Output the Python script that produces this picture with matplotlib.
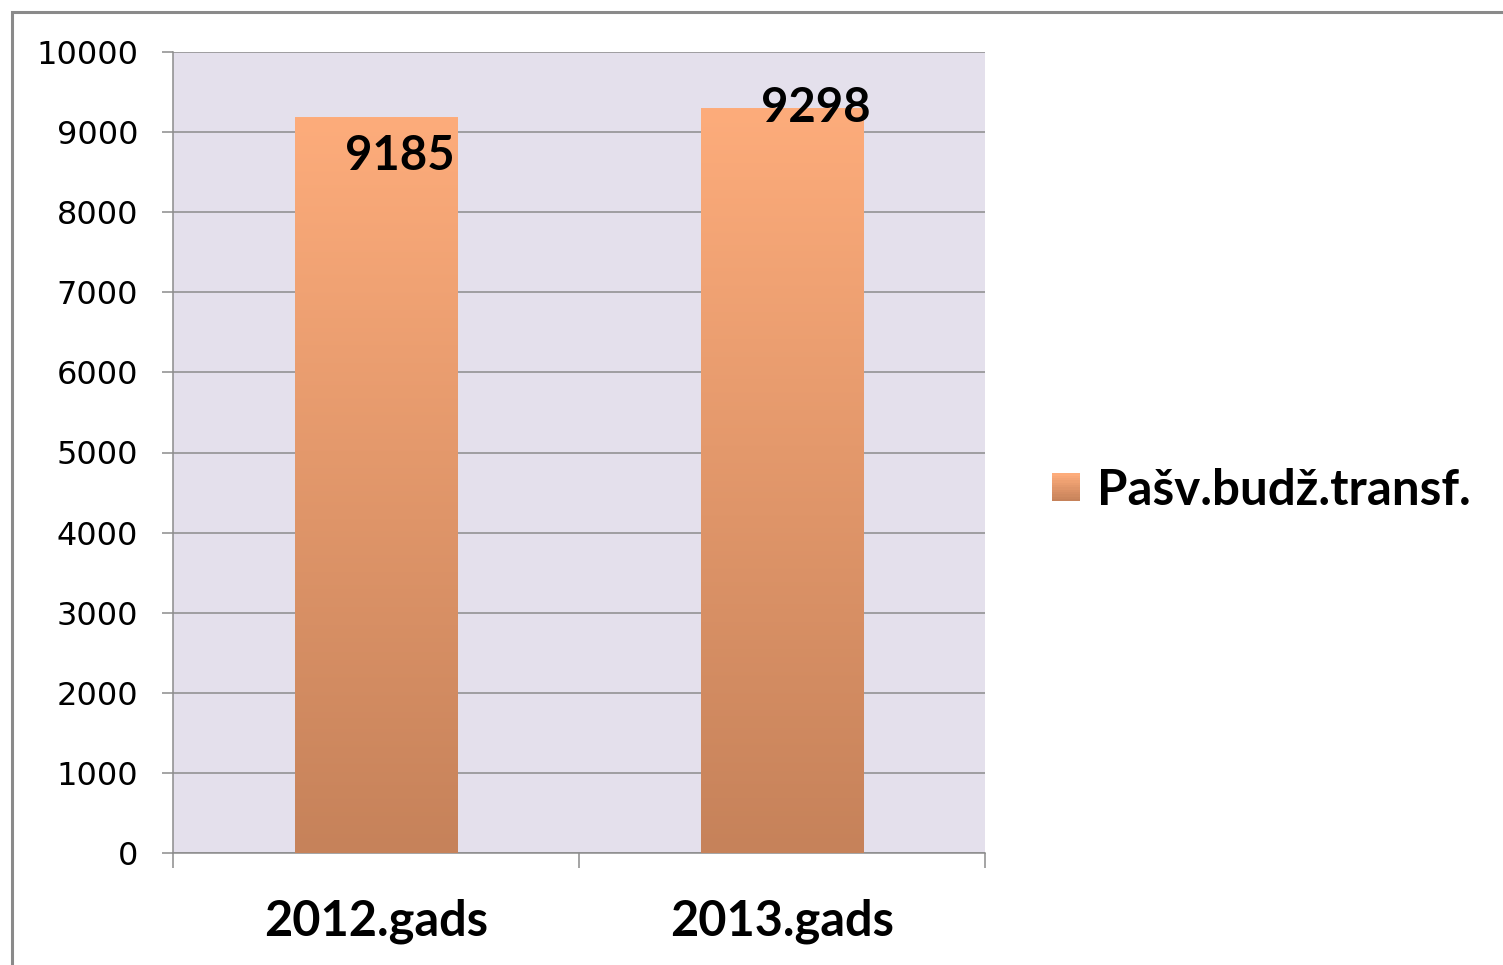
#bar chart: Pašv.budž.transf. 2012 vs 2013

import numpy as np
import matplotlib
matplotlib.use('Agg')
import matplotlib.pyplot as plt
from matplotlib.patches import Rectangle
from matplotlib.legend_handler import HandlerBase
from matplotlib.colors import to_rgb

years = ['2012.gads', '2013.gads']
values = [9185, 9298]
series_name = 'Pašv.budž.transf.'
yticks = [0, 1000, 2000, 3000, 4000, 5000, 6000, 7000, 8000, 9000, 10000]

top_col = '#FDAC7B'
bot_col = '#C6825A'
bg_col = '#E4E0EC'
grid_col = '#8C8C8C'


def gradient(n=256):
    a = np.array(to_rgb(bot_col))
    b = np.array(to_rgb(top_col))
    t = np.linspace(0, 1, n)[:, None]
    return (a + (b - a) * t)[:, None, :]


class GradientHandler(HandlerBase):
    def create_artists(self, legend, orig_handle, xdescent, ydescent,
                       width, height, fontsize, trans):
        n = 12
        side = 20
        x0 = xdescent + width - side
        y0 = -ydescent + (height - side) / 2
        g = gradient(n)
        arts = []
        for i in range(n):
            r = Rectangle((x0, y0 + side * i / n), side, side / n + 0.3,
                          facecolor=g[i, 0], edgecolor='none', transform=trans)
            arts.append(r)
        return arts


def main():
    fig = plt.figure(figsize=(15.03, 9.65), dpi=100)
    fig.patch.set_facecolor('white')

    # outer frame (only left and top visible in the original)
    fig.add_artist(Rectangle((12 / 1503, -0.1), 1.2, 1 - 12 / 965 + 0.1,
                             transform=fig.transFigure, fill=False,
                             edgecolor='#8A8A8A', linewidth=2.2))

    ax = fig.add_axes([173 / 1503, 1 - 853 / 965, 812 / 1503, 801 / 965])
    ax.set_facecolor(bg_col)

    x = np.arange(len(years))
    bars = ax.bar(x, values, width=0.4, color=top_col, zorder=3,
                  label=series_name)

    g = gradient()
    for b in bars:
        bx, by = b.get_x(), b.get_y()
        w, h = b.get_width(), b.get_height()
        im = ax.imshow(g, extent=(bx, bx + w, by, by + h), origin='lower',
                       aspect='auto', zorder=4)
        im.set_clip_path(b)

    ax.set_xlim(-0.5, len(years) - 0.5)
    ax.set_ylim(0, 10000)
    ax.set_yticks(yticks)
    ax.set_yticklabels([str(t) for t in yticks], fontsize=23,
                       family='DejaVu Sans')
    ax.yaxis.grid(True, color=grid_col, linewidth=1.1, zorder=1)
    ax.set_axisbelow(True)

    ax.set_xticks(x)
    ax.set_xticklabels(years, fontsize=35, fontweight='bold', family='Lato')
    ax.set_xticks(np.arange(len(years) + 1) - 0.5, minor=True)
    ax.tick_params(axis='x', which='major', length=0, pad=33)
    ax.tick_params(axis='x', which='minor', length=11, width=1.1,
                   color=grid_col, direction='out')
    ax.tick_params(axis='y', length=8, width=1.1, color=grid_col, pad=17)

    for s in ['top', 'right']:
        ax.spines[s].set_visible(False)
    for s in ['left', 'bottom']:
        ax.spines[s].set_color(grid_col)
        ax.spines[s].set_linewidth(1.1)

    # value labels, placed like the excel "inside end" labels
    offsets = [(17, -28), (24, 0)]
    for i, v in enumerate(values):
        ax.annotate(str(v), xy=(x[i], v), xytext=offsets[i],
                    textcoords='offset points', ha='center', va='center',
                    fontsize=34, fontweight='bold', family='Lato', zorder=6)

    ax.legend(handles=[bars], labels=[series_name],
              handler_map={type(bars): GradientHandler()},
              loc='center left', bbox_to_anchor=(1.039, 0.453),
              frameon=False, handlelength=0.58, handletextpad=0.35,
              borderpad=0.2,
              prop={'family': 'Lato', 'weight': 'bold', 'size': 35.5})

    fig.savefig('out.png', dpi=100)


if __name__ == '__main__':
    main()
